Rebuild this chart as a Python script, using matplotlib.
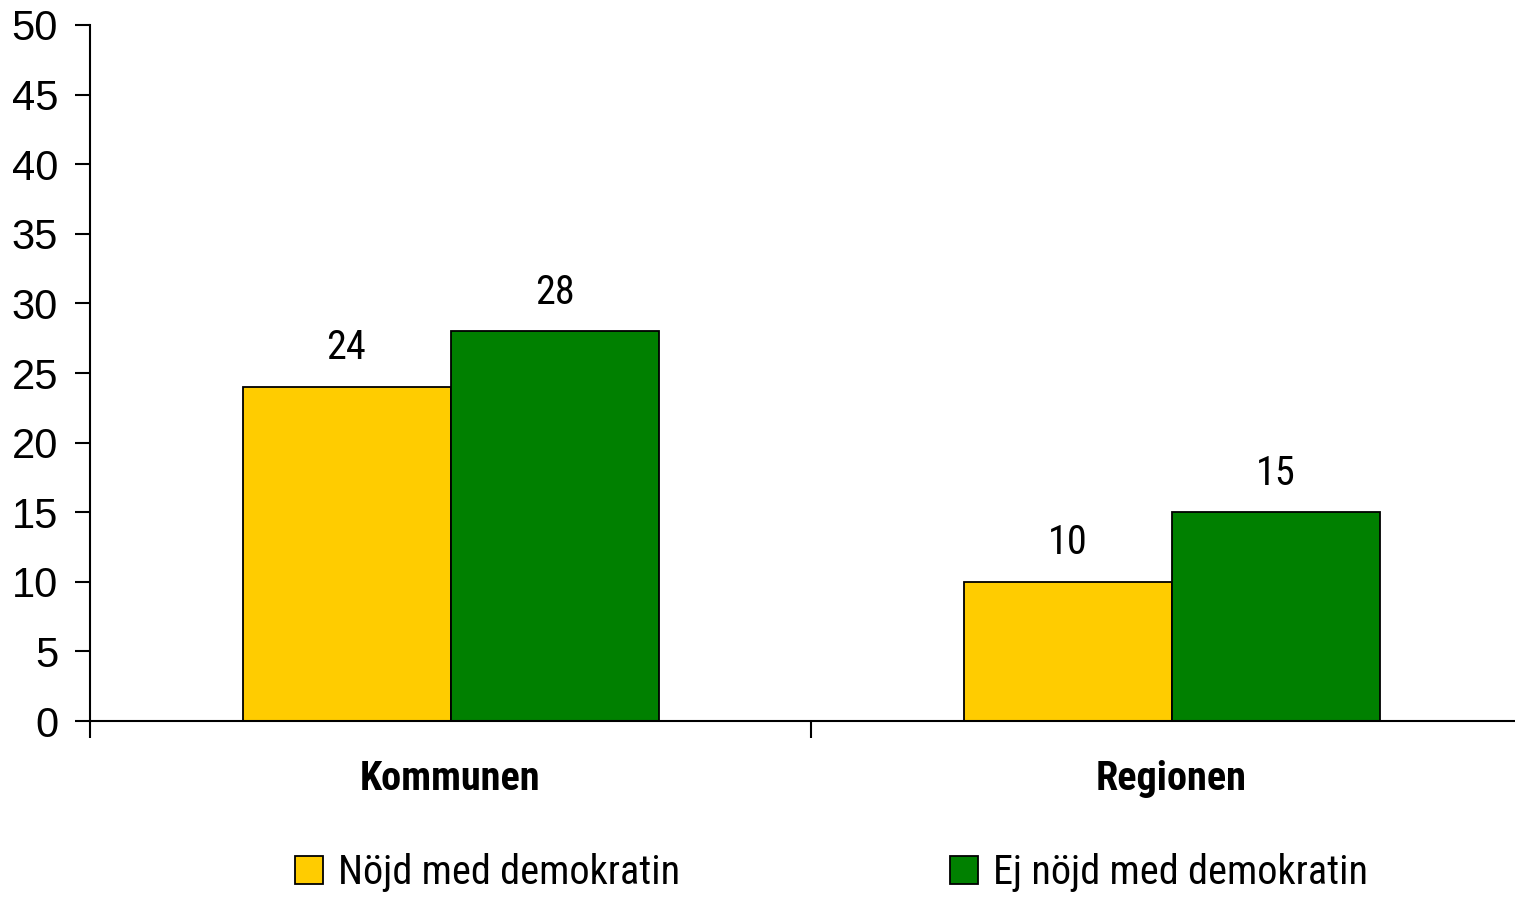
import matplotlib
matplotlib.use("Agg")
import matplotlib.pyplot as plt
import numpy as np
from matplotlib import font_manager as fm

categories = ["Kommunen", "Regionen"]
series_names = ["Nöjd med demokratin", "Ej nöjd med demokratin"]
nojd = [24, 10]
ej_nojd = [28, 15]
yticks = [0, 5, 10, 15, 20, 25, 30, 35, 40, 45, 50]

names = {f.name for f in fm.fontManager.ttflist}
narrow = "Liberation Sans"
for cand in ["Liberation Sans Narrow", "Arial Narrow", "Roboto Condensed", "PT Sans Narrow",
             "Archivo Narrow", "Barlow Semi Condensed"]:
    if cand in names:
        narrow = cand
        break

fig = plt.figure(figsize=(15.15, 8.97), dpi=100)
W, H = 1515, 897
x0, x1 = 90, 1532
ytop, ybot = 25, 721
ax = fig.add_axes([x0 / W, (H - ybot) / H, (x1 - x0) / W, (ybot - ytop) / H])

x = np.arange(len(categories))
bw = 208 / 721
b1 = ax.bar(x - bw / 2, nojd, bw, color="#FFCC00", edgecolor="black", linewidth=1.3, label=series_names[0])
b2 = ax.bar(x + bw / 2, ej_nojd, bw, color="#008000", edgecolor="black", linewidth=1.3, label=series_names[1])

for bars in (b1, b2):
    for r in bars:
        ax.text(r.get_x() + r.get_width() / 2, r.get_height() + 1.4, f"{int(r.get_height())}",
                ha="center", va="bottom", fontsize=29, family=narrow)

ax.set_xlim(-0.5, 1.5)
ax.set_ylim(0, 50)
ax.set_yticks(yticks)
ax.set_yticklabels([str(v) for v in yticks], fontsize=30, family="Liberation Sans")
ax.set_xticks(x)
ax.set_xticklabels(categories, fontsize=29, family=narrow, fontweight="bold")
ax.set_xticks([-0.5, 0.5, 1.5], minor=True)
ax.tick_params(axis="x", which="major", length=0, pad=28)
ax.tick_params(axis="x", which="minor", length=12, width=1.5, direction="out")
ax.tick_params(axis="y", length=11, width=1.5, direction="out", pad=12)

for s in ("top", "right"):
    ax.spines[s].set_visible(False)
for s in ("left", "bottom"):
    ax.spines[s].set_linewidth(1.5)
ax.spines["left"].set_bounds(0, 50)

leg = fig.legend(handles=[b1, b2], labels=series_names, loc="center", bbox_to_anchor=(0.549, 0.027),
                 ncol=2, frameon=False, prop={"family": narrow, "size": 29},
                 handlelength=0.7, handleheight=0.7, handletextpad=0.37, columnspacing=6.7)

fig.savefig("out.png", dpi=100)
